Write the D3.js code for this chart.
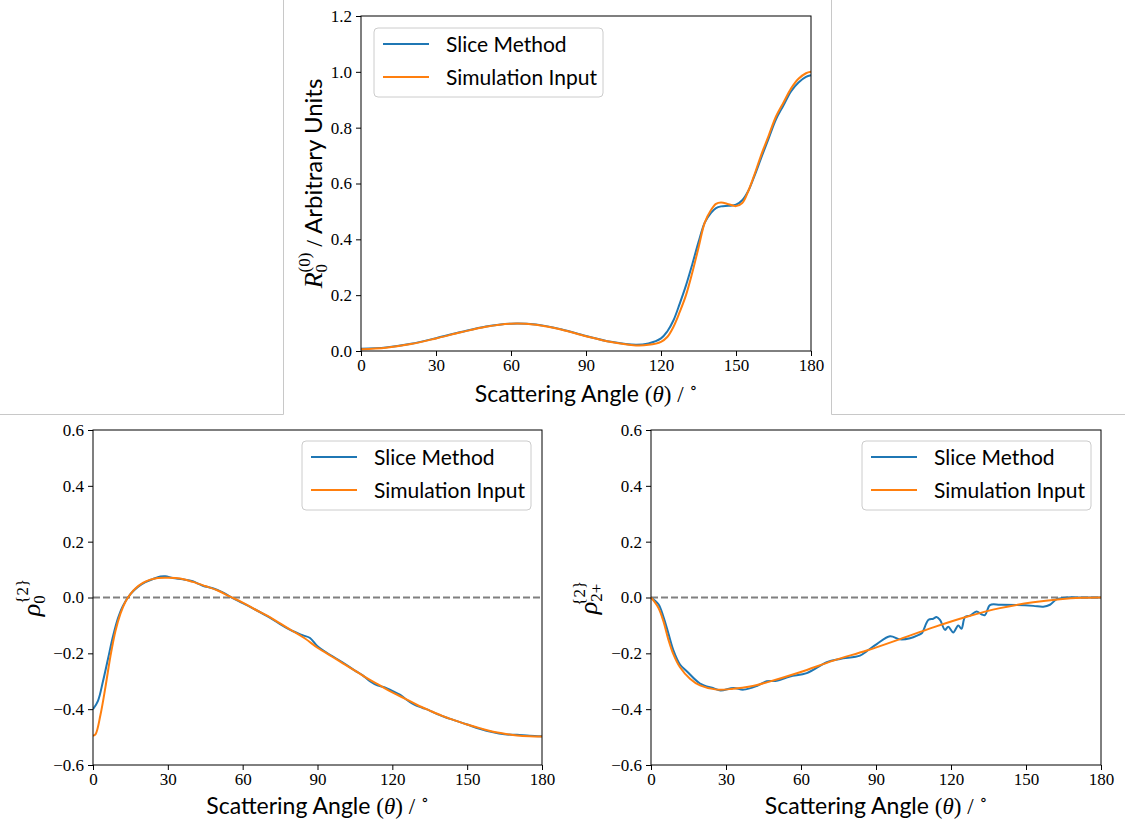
<!DOCTYPE html>
<html>
<head>
<meta charset="utf-8">
<script src="https://cdn.jsdelivr.net/npm/d3@7"></script>
<style>
  body { margin: 0; background: #fff; }
  svg { display: block; }
</style>
</head>
<body>
<svg id="svg" width="1125" height="826"></svg>
<script>
// DATA //

const tickAngles = [0, 30, 60, 90, 120, 150, 180];
const ticksR0 = [0, 0.2, 0.4, 0.6, 0.8, 1.0, 1.2];
const ticksRho = [-0.6, -0.4, -0.2, 0, 0.2, 0.4, 0.6];
const seriesNames = ["Slice Method", "Simulation Input"];
const seriesColors = ["#1f77b4", "#ff7f0e"];

// R_0^(0), slice method
const r0SliceAngle = [0, 10, 20, 30, 40, 50, 60, 70, 80, 90, 100, 110, 115, 120, 122.5, 125, 127.5, 130, 132.5, 135, 137.5, 140, 142, 144, 147, 150, 152.5, 155, 157.5, 160, 163, 166, 169, 172, 175, 178, 180];
const r0SliceValue = [0.008, 0.013, 0.026, 0.046, 0.068, 0.088, 0.098, 0.095, 0.078, 0.054, 0.033, 0.022, 0.027, 0.045, 0.07, 0.11, 0.17, 0.235, 0.31, 0.39, 0.46, 0.495, 0.512, 0.518, 0.52, 0.524, 0.54, 0.575, 0.63, 0.69, 0.76, 0.83, 0.88, 0.93, 0.962, 0.982, 0.988];
// R_0^(0), simulation input
const r0SimAngle = [0, 10, 20, 30, 40, 50, 60, 70, 80, 90, 100, 110, 115, 120, 122.5, 125, 127.5, 130, 132.5, 135, 137.5, 140, 142, 144, 147, 150, 152.5, 155, 157.5, 160, 163, 166, 169, 172, 175, 178, 180];
const r0SimValue = [0.006, 0.012, 0.025, 0.045, 0.067, 0.087, 0.098, 0.094, 0.077, 0.053, 0.032, 0.02, 0.022, 0.033, 0.05, 0.087, 0.14, 0.2, 0.28, 0.37, 0.46, 0.505, 0.527, 0.532, 0.526, 0.519, 0.53, 0.575, 0.635, 0.7, 0.77, 0.84, 0.89, 0.94, 0.975, 0.995, 1.0];

// rho_0^{2}
const rho0SliceAngle = [0, 2, 4, 6, 8, 10, 12, 15, 18, 21, 24, 27, 29, 32, 36, 40, 44, 48, 52, 56, 60, 65, 70, 75, 80, 84, 87, 90, 95, 100, 105, 108, 111, 114, 117, 120, 123, 126, 129, 132, 135, 138, 141, 145, 150, 155, 160, 165, 170, 175, 180];
const rho0SliceValue = [-0.40, -0.37, -0.30, -0.22, -0.14, -0.075, -0.03, 0.012, 0.038, 0.055, 0.066, 0.075, 0.076, 0.07, 0.065, 0.058, 0.042, 0.033, 0.018, -0.002, -0.02, -0.043, -0.068, -0.095, -0.12, -0.135, -0.145, -0.175, -0.205, -0.232, -0.262, -0.278, -0.3, -0.315, -0.322, -0.335, -0.348, -0.368, -0.385, -0.395, -0.405, -0.418, -0.428, -0.44, -0.455, -0.47, -0.482, -0.49, -0.492, -0.495, -0.497];
const rho0SimAngle = [0, 1, 3, 5, 7, 9, 11, 13, 15, 17, 20, 23, 26, 30, 35, 40, 45, 50, 55, 60, 65, 70, 75, 80, 85, 90, 95, 100, 105, 110, 115, 120, 125, 130, 135, 140, 145, 150, 155, 160, 165, 170, 175, 180];
const rho0SimValue = [-0.495, -0.49, -0.42, -0.32, -0.21, -0.12, -0.058, -0.015, 0.012, 0.032, 0.052, 0.064, 0.07, 0.071, 0.068, 0.056, 0.041, 0.025, 0.003, -0.018, -0.043, -0.066, -0.093, -0.12, -0.147, -0.18, -0.207, -0.235, -0.262, -0.29, -0.315, -0.34, -0.362, -0.385, -0.405, -0.424, -0.44, -0.455, -0.468, -0.48, -0.488, -0.494, -0.497, -0.498];

// rho_2+^{2}
const rho2SliceAngle = [0, 3, 5, 7, 9, 11.6, 14.4, 19.6, 25, 27.8, 33, 37, 42.3, 46.3, 50.3, 55.6, 62.3, 70.3, 75.6, 83.6, 86.3, 90.3, 95.6, 99.6, 103.6, 107, 108.3, 111, 112.9, 114.2, 115.6, 117.6, 118.9, 120.9, 122.9, 124.2, 125.6, 127.6, 130.2, 132.2, 133.6, 135.6, 139.6, 146.3, 152.9, 156.9, 159.6, 162.3, 166.3, 172, 180];
const rho2SliceValue = [0, -0.024, -0.07, -0.13, -0.19, -0.24, -0.265, -0.308, -0.325, -0.333, -0.324, -0.33, -0.317, -0.30, -0.298, -0.283, -0.271, -0.232, -0.22, -0.208, -0.192, -0.167, -0.139, -0.15, -0.146, -0.134, -0.128, -0.08, -0.076, -0.07, -0.08, -0.116, -0.105, -0.125, -0.1, -0.112, -0.07, -0.065, -0.05, -0.06, -0.063, -0.027, -0.026, -0.027, -0.03, -0.033, -0.026, -0.006, 0, 0, 0];
const rho2SimAngle = [0, 2.9, 4.9, 6.9, 8.9, 11.6, 15.6, 19.6, 26.3, 32.9, 39.6, 46.3, 59.6, 72.9, 86.3, 99.6, 112.9, 126.3, 139.6, 152.9, 163.6, 172, 180];
const rho2SimValue = [0, -0.036, -0.083, -0.149, -0.202, -0.25, -0.291, -0.315, -0.33, -0.327, -0.319, -0.304, -0.268, -0.226, -0.19, -0.149, -0.107, -0.069, -0.038, -0.017, -0.006, -0.001, 0];

// MAIN //

const svg = d3.select("#svg");
svg.append("rect").attr("width", 1125).attr("height", 826).attr("fill", "#fff");

// light frame lines round the top subfigure
const frameColor = "#c8c8c8";
[[283.5, 0, 283.5, 414.5], [0, 414.5, 283.5, 414.5], [831.5, 0, 831.5, 414.5], [831.5, 414.5, 1125, 414.5]]
  .forEach(l => svg.append("line")
    .attr("x1", l[0]).attr("y1", l[1]).attr("x2", l[2]).attr("y2", l[3])
    .attr("stroke", frameColor).attr("stroke-width", 1));

const sansFont = "Lato, 'Open Sans', sans-serif";
const serifFont = "'Liberation Serif', 'DejaVu Serif', serif";

function toPoints(angles, values) {
  return angles.map((a, i) => [a, values[i]]);
}

const panels = [
  {
    id: "r0", left: 361, top: 16, width: 450, height: 335,
    yDomain: [0, 1.2], yTicks: ticksR0, zeroLine: false,
    series: [toPoints(r0SliceAngle, r0SliceValue), toPoints(r0SimAngle, r0SimValue)],
    legend: {x: 13, y: 12}, xLabelY: 402,
    yLabel: {x: 322, main: "R", sub: "0", sup: "(0)", rest: " / Arbitrary Units"}
  },
  {
    id: "rho0", left: 93, top: 430, width: 449, height: 335,
    yDomain: [-0.6, 0.6], yTicks: ticksRho, zeroLine: true,
    series: [toPoints(rho0SliceAngle, rho0SliceValue), toPoints(rho0SimAngle, rho0SimValue)],
    legend: {x: 449 - 240, y: 11}, xLabelY: 814,
    yLabel: {x: 40, main: "ρ", sub: "0", sup: "{2}", rest: ""}
  },
  {
    id: "rho2", left: 651, top: 430, width: 450, height: 335,
    yDomain: [-0.6, 0.6], yTicks: ticksRho, zeroLine: true,
    series: [toPoints(rho2SliceAngle, rho2SliceValue), toPoints(rho2SimAngle, rho2SimValue)],
    legend: {x: 450 - 239, y: 11}, xLabelY: 814,
    yLabel: {x: 597, main: "ρ", sub: "2+", sup: "{2}", rest: ""}
  }
];

panels.forEach(drawPanel);

function drawPanel(p) {
  const g = svg.append("g").attr("transform", `translate(${p.left},${p.top})`);
  const x = d3.scaleLinear().domain([0, 180]).range([0, p.width]);
  const y = d3.scaleLinear().domain(p.yDomain).range([p.height, 0]);

  g.append("clipPath").attr("id", "clip-" + p.id)
    .append("rect").attr("width", p.width).attr("height", p.height);

  // axes
  const fmt = d3.format(".1f");
  const xAxis = g.append("g").attr("transform", `translate(0,${p.height})`)
    .call(d3.axisBottom(x).tickValues(tickAngles).tickSize(5).tickPadding(3).tickSizeOuter(0));
  const yAxis = g.append("g")
    .call(d3.axisLeft(y).tickValues(p.yTicks).tickFormat(fmt).tickSize(5).tickPadding(4).tickSizeOuter(0));
  [xAxis, yAxis].forEach(a => {
    a.attr("font-family", serifFont).attr("font-size", 17);
    a.select(".domain").remove();
    a.selectAll("line").attr("stroke", "#000").attr("stroke-width", 1);
    a.selectAll("text").attr("fill", "#000");
  });

  // dashed zero line
  if (p.zeroLine) {
    g.append("line")
      .attr("x1", 0).attr("x2", p.width).attr("y1", y(0)).attr("y2", y(0))
      .attr("stroke", "#808080").attr("stroke-width", 1.8).attr("stroke-dasharray", "7,3");
  }

  // lines
  const line = d3.line().x(d => x(d[0])).y(d => y(d[1])).curve(d3.curveCatmullRom.alpha(0.5));
  g.append("g").attr("clip-path", `url(#clip-${p.id})`)
    .selectAll("path")
    .data(p.series)
    .enter()
    .append("path")
    .attr("fill", "none")
    .attr("stroke", (d, i) => seriesColors[i])
    .attr("stroke-width", 2)
    .attr("stroke-linejoin", "round")
    .attr("d", line);

  // frame
  g.append("rect")
    .attr("x", 0).attr("y", 0).attr("width", p.width).attr("height", p.height)
    .attr("fill", "none").attr("stroke", "#000").attr("stroke-width", 1);

  // legend
  const lg = g.append("g").attr("transform", `translate(${p.legend.x},${p.legend.y})`);
  lg.append("rect")
    .attr("width", 229).attr("height", 69).attr("rx", 4)
    .attr("fill", "#fff").attr("fill-opacity", 0.8)
    .attr("stroke", "#cccccc").attr("stroke-width", 1);
  seriesNames.forEach((name, i) => {
    const cy = 16 + i * 33;
    lg.append("line")
      .attr("x1", 9).attr("x2", 55).attr("y1", cy).attr("y2", cy)
      .attr("stroke", seriesColors[i]).attr("stroke-width", 2);
    lg.append("text")
      .attr("x", 72).attr("y", cy + 7.5)
      .attr("font-family", sansFont).attr("font-size", 21)
      .text(name);
  });

  // x label
  const xl = svg.append("text")
    .attr("x", p.left + p.width / 2).attr("y", p.xLabelY)
    .attr("text-anchor", "middle").attr("font-size", 23);
  xl.append("tspan").attr("font-family", sansFont).text("Scattering Angle ");
  xl.append("tspan").attr("font-family", serifFont).text("(");
  xl.append("tspan").attr("font-family", serifFont).attr("font-style", "italic").text("θ");
  xl.append("tspan").attr("font-family", serifFont).text(")  /  ");
  xl.append("tspan").attr("font-family", serifFont).attr("font-size", 16).attr("dy", -9).text("∘");

  // y label
  const yl = p.yLabel;
  const t = svg.append("text")
    .attr("transform", `translate(${yl.x},${p.top + p.height / 2}) rotate(-90)`)
    .attr("text-anchor", "middle").attr("font-size", 26).attr("font-family", serifFont);
  t.append("tspan").attr("font-style", "italic").text(yl.main);
  t.append("tspan").attr("font-size", 17).attr("dy", 5).text(yl.sub);
  const subW = yl.sub.length * 8.5 + (yl.sub.includes("+") ? 5 : 0);
  t.append("tspan").attr("font-size", 17).attr("dx", -subW).attr("dy", -17).text(yl.sup);
  if (yl.rest) {
    t.append("tspan").attr("dy", 12).attr("font-size", 24).text(" / ");
    t.append("tspan").attr("font-family", sansFont).attr("font-size", 24).text("Arbitrary Units");
  }
}
</script>
</body>
</html>
